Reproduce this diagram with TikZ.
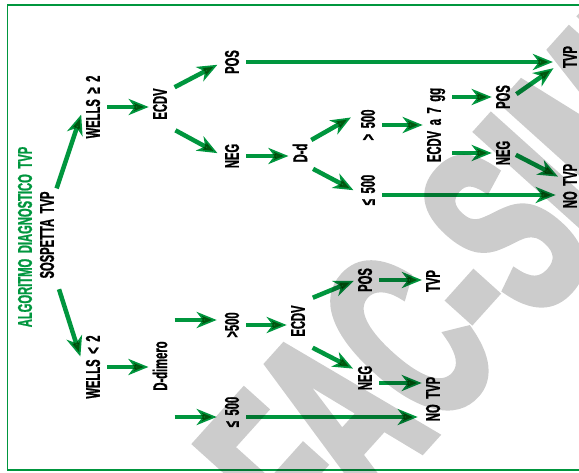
\documentclass[tikz,border=0pt]{standalone}
\usepackage{fontspec}
\newfontfamily\condfont{Liberation Sans}[FakeStretch=0.56, FakeBold=1, WordSpace=1.8]
\newfontfamily\wmfont{Liberation Sans}[FakeStretch=0.56, FakeBold=3]
\usepackage{tikz}
\usetikzlibrary{arrows.meta, calc}
\definecolor{tvpgreen}{RGB}{0,150,62}
\definecolor{wmgray}{RGB}{204,204,204}

\begin{document}
\begin{tikzpicture}[x=1pt, y=-1pt,
    lbl/.style={rotate=90, inner sep=2pt, font=\condfont\bfseries\fontsize{20}{22}\selectfont},
    arr/.style={draw=tvpgreen, line width=4.5pt, shorten <=5pt, shorten >=2pt,
        -{Stealth[length=20pt, width=16pt, inset=6pt]}}]
    \useasboundingbox (0,0) rectangle (579,473);
    \clip (0,0) rectangle (579,473);
    \node[rotate=48, anchor=base west, inner sep=0pt, text=wmgray,
        font=\wmfont\bfseries\fontsize{250}{250}\selectfont] (wm) at (318,566) {FAC-SIMILE};

    \node[lbl, text=tvpgreen] (title) at (25,237) {ALGORITMO DIAGNOSTICO TVP};
    \node[lbl] (sosp) at (47,235) {SOSPETTA TVP};
    \node[lbl] (wellsA) at (93,107) {WELLS ≥ 2};
    \node[lbl] (wellsB) at (93,367) {WELLS < 2};
    % ramo superiore
    \node[lbl] (ecdvA) at (160,104) {ECDV};
    \node[lbl] (posA) at (232,62) {POS};
    \node[lbl] (negA) at (232,156) {NEG};
    \node[lbl] (dd) at (300,153) {D-d};
    \node[lbl] (gtA) at (368,125) {>\ 500};
    \node[lbl] (leA) at (368,190) {≤ 500};
    \node[lbl] (ecdv7) at (436,125) {ECDV a 7 gg};
    \node[lbl] (pos7) at (503,97) {POS};
    \node[lbl] (neg7) at (503,153) {NEG};
    \node[lbl] (tvpA) at (570,57) {TVP};
    \node[lbl] (notvpA) at (570,186) {NO TVP};
    % ramo inferiore
    \node[lbl] (ddim) at (160,366) {D-dimero};
    \node[lbl] (gtB) at (232,325) {>500};
    \node[lbl] (leB) at (232,412) {≤ 500};
    \node[lbl] (ecdvB) at (298,321) {ECDV};
    \node[lbl] (posB) at (365,280) {POS};
    \node[lbl] (negB) at (365,378) {NEG};
    \node[lbl] (tvpB) at (433,281) {TVP};
    \node[lbl] (notvpB) at (433,399) {NO TVP};

    \begin{scope}[blend mode=multiply]
    \draw[tvpgreen, line width=1.2pt] (600,5) -- (7.5,5) -- (7.5,470) -- (600,470);

    \draw[arr, shorten <=1pt, shorten >=8pt] (sosp.south east) -- (wellsA.north);
    \draw[arr, shorten <=9pt, shorten >=11pt] (sosp.south west) -- (wellsB.north);

    \draw[arr] (wellsA.south) -- (wellsA.south -| ecdvA.north);
    \draw[arr, shorten <=6pt, shorten >=6pt] ([yshift=14pt]ecdvA.south) -- (posA.north);
    \draw[arr, shorten <=7pt, shorten >=6pt] ([yshift=-23pt]ecdvA.south) -- (negA.north);
    \draw[arr, shorten >=8pt] (posA.south) -- (posA.south -| tvpA.north);
    \draw[arr] (negA.south) -- (negA.south -| dd.north);
    \draw[arr, shorten <=2pt, shorten >=9pt] ([yshift=12pt]dd.south) -- ([yshift=12pt]gtA.north);
    \draw[arr, shorten <=4pt, shorten >=6pt] ([yshift=-14pt]dd.south) -- ([yshift=-3pt]leA.north);
    \draw[arr] (gtA.south) -- (gtA.south -| ecdv7.north);
    \draw[arr, shorten >=5pt] ([yshift=-5pt]leA.south) -- ($(leA.south -| notvpA.north)+(0,5)$);
    \draw[arr] (ecdv7.south |- pos7.north) -- (pos7.north);
    \draw[arr] (ecdv7.south |- neg7.north) -- (neg7.north);
    \draw[arr, shorten <=5pt, shorten >=9pt] (pos7.south) -- ([yshift=-6pt]tvpA.north);
    \draw[arr, shorten <=4pt, shorten >=3pt] (neg7.south) -- ([yshift=8pt]notvpA.north);

    \draw[arr] (wellsB.south) -- (wellsB.south -| ddim.north);
    \draw[arr, shorten >=6pt] ($(gtB.north -| ddim.south)+(0,-5)$) -- ([yshift=5pt]gtB.north);
    \draw[arr, shorten >=6pt] ($(leB.north -| ddim.south)+(0,5)$) -- ([yshift=-5pt]leB.north);
    \draw[arr] (gtB.south) -- (gtB.south -| ecdvB.north);
    \draw[arr, shorten >=6pt] ([yshift=-5pt]leB.south) -- ($(leB.south -| notvpB.north)+(0,5)$);
    \draw[arr, shorten <=6pt] ([yshift=21pt]ecdvB.south) -- (posB.north);
    \draw[arr, shorten <=6pt, shorten >=3pt] ([yshift=-24pt]ecdvB.south) -- ([yshift=8pt]negB.north);
    \draw[arr] (posB.south) -- (posB.south -| tvpB.north);
    \draw[arr] ([yshift=-5pt]negB.south) -- ($(negB.south -| notvpB.north)+(0,5)$);
    \end{scope}
\end{tikzpicture}
\end{document}
